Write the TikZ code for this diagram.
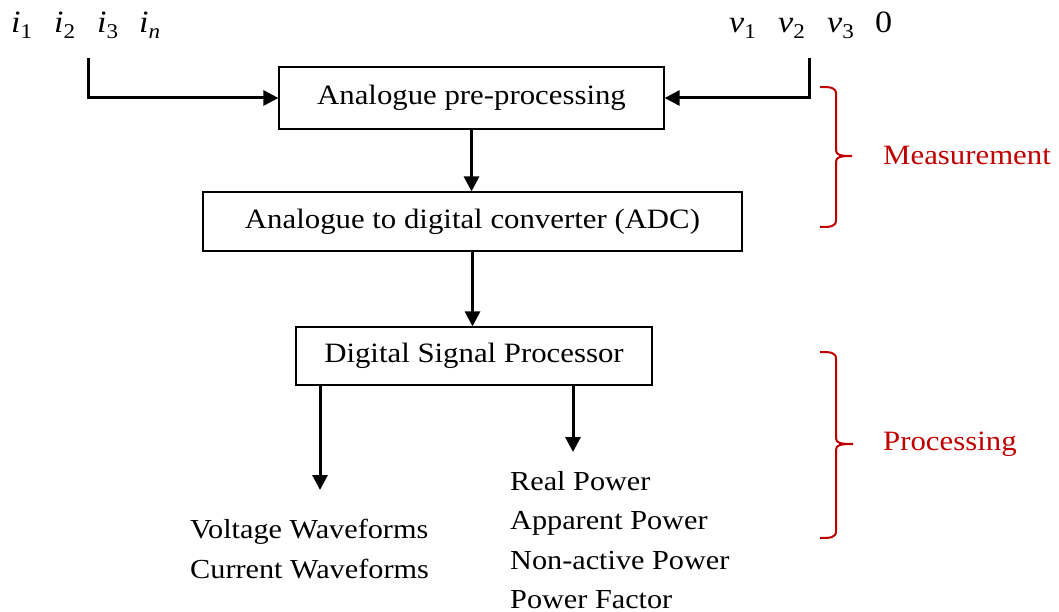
\documentclass[tikz,border=0pt]{standalone}
\usepackage{fontspec}
\setmainfont{Liberation Serif}[FakeStretch=1.1]
\usetikzlibrary{arrows.meta}
\definecolor{bracered}{HTML}{C00000}
% italic signal name with an upright subscript
\newcommand{\signame}[2]{\textit{#1}\raisebox{-6pt}{\fontsize{21}{21}\selectfont #2}}
\tikzset{
  blk/.style={draw, line width=1.2pt, inner sep=0pt, align=center,
              font=\fontsize{28}{34}\selectfont},
  conn/.style={line width=3pt, -{Triangle[length=15pt,width=15pt]}},
  brc/.style={draw=bracered, line width=2pt},
  phase/.style={anchor=base west, text=bracered, inner sep=0pt,
                font=\fontsize{28}{34}\selectfont},
  outtxt/.style={anchor=base west, inner sep=0pt,
                 font=\fontsize{27.5}{34}\selectfont},
  sig/.style={anchor=base west, inner sep=0pt,
              font=\fontsize{31}{34}\selectfont},
}
\begin{document}
\begin{tikzpicture}[x=1pt, y=-1pt]
\useasboundingbox (0,0) rectangle (1059,612);

% processing chain
\node[blk, minimum width=385pt, minimum height=62pt] (pre) at (471.5,98) {Analogue pre-processing};
\node[blk, minimum width=539pt, minimum height=59pt] (adc) at (472.5,221.5) {Analogue to digital converter (ADC)};
\node[blk, minimum width=356pt, minimum height=58pt] (dsp) at (474,356) {Digital Signal Processor};

% input signals
\node[sig] (i1) at (11,33) {\signame{i}{1}};
\node[sig] (i2) at (54,33) {\signame{i}{2}};
\node[sig] (i3) at (97,33) {\signame{i}{3}};
\node[sig] (in) at (139,33) {\signame{i}{\textit{n}}};
\node[sig] (v1) at (729,33) {\signame{v}{1}};
\node[sig] (v2) at (778,33) {\signame{v}{2}};
\node[sig] (v3) at (827,33) {\signame{v}{3}};
\node[sig] (v0) at (875,33) {0};

\coordinate (iin) at (88,58);
\coordinate (vin) at (809,58);
\draw[conn] (iin) |- (pre.west);
\draw[conn] (vin) |- (pre.east);

\draw[conn] (pre.south) -- (pre.south |- adc.north);
\draw[conn] (adc.south) -- (adc.south |- dsp.north);

% outputs
\coordinate (wvend) at (320,490);
\coordinate (pwend) at (573,452);
\draw[conn] (wvend |- dsp.south) -- (wvend);
\draw[conn] (pwend |- dsp.south) -- (pwend);

\node[outtxt] (vw) at (190,538) {Voltage Waveforms};
\node[outtxt] (cw) at (190,578) {Current Waveforms};
\node[outtxt] (rp) at (510,490) {Real Power};
\node[outtxt] (ap) at (510,529) {Apparent Power};
\node[outtxt] (np) at (510,569) {Non-active Power};
\node[outtxt] (pf) at (510,608) {Power Factor};

% stage braces
\draw[brc] (820,87) .. controls (830,87) and (836,87) .. (836,94) -- (836,150)
  .. controls (836,155) and (840,156) .. (852,156)
  (852,156) .. controls (840,156) and (836,157) .. (836,162) -- (836,220)
  .. controls (836,227) and (830,227) .. (820,227);
\node[phase] (meas) at (883,165) {Measurement};

\draw[brc] (820,352) .. controls (830,352) and (836,352) .. (836,359) -- (836,438)
  .. controls (836,443) and (840,444) .. (853,444)
  (853,444) .. controls (840,444) and (836,445) .. (836,450) -- (836,531)
  .. controls (836,538) and (830,538) .. (820,538);
\node[phase] (proc) at (883,450) {Processing};
\end{tikzpicture}
\end{document}
